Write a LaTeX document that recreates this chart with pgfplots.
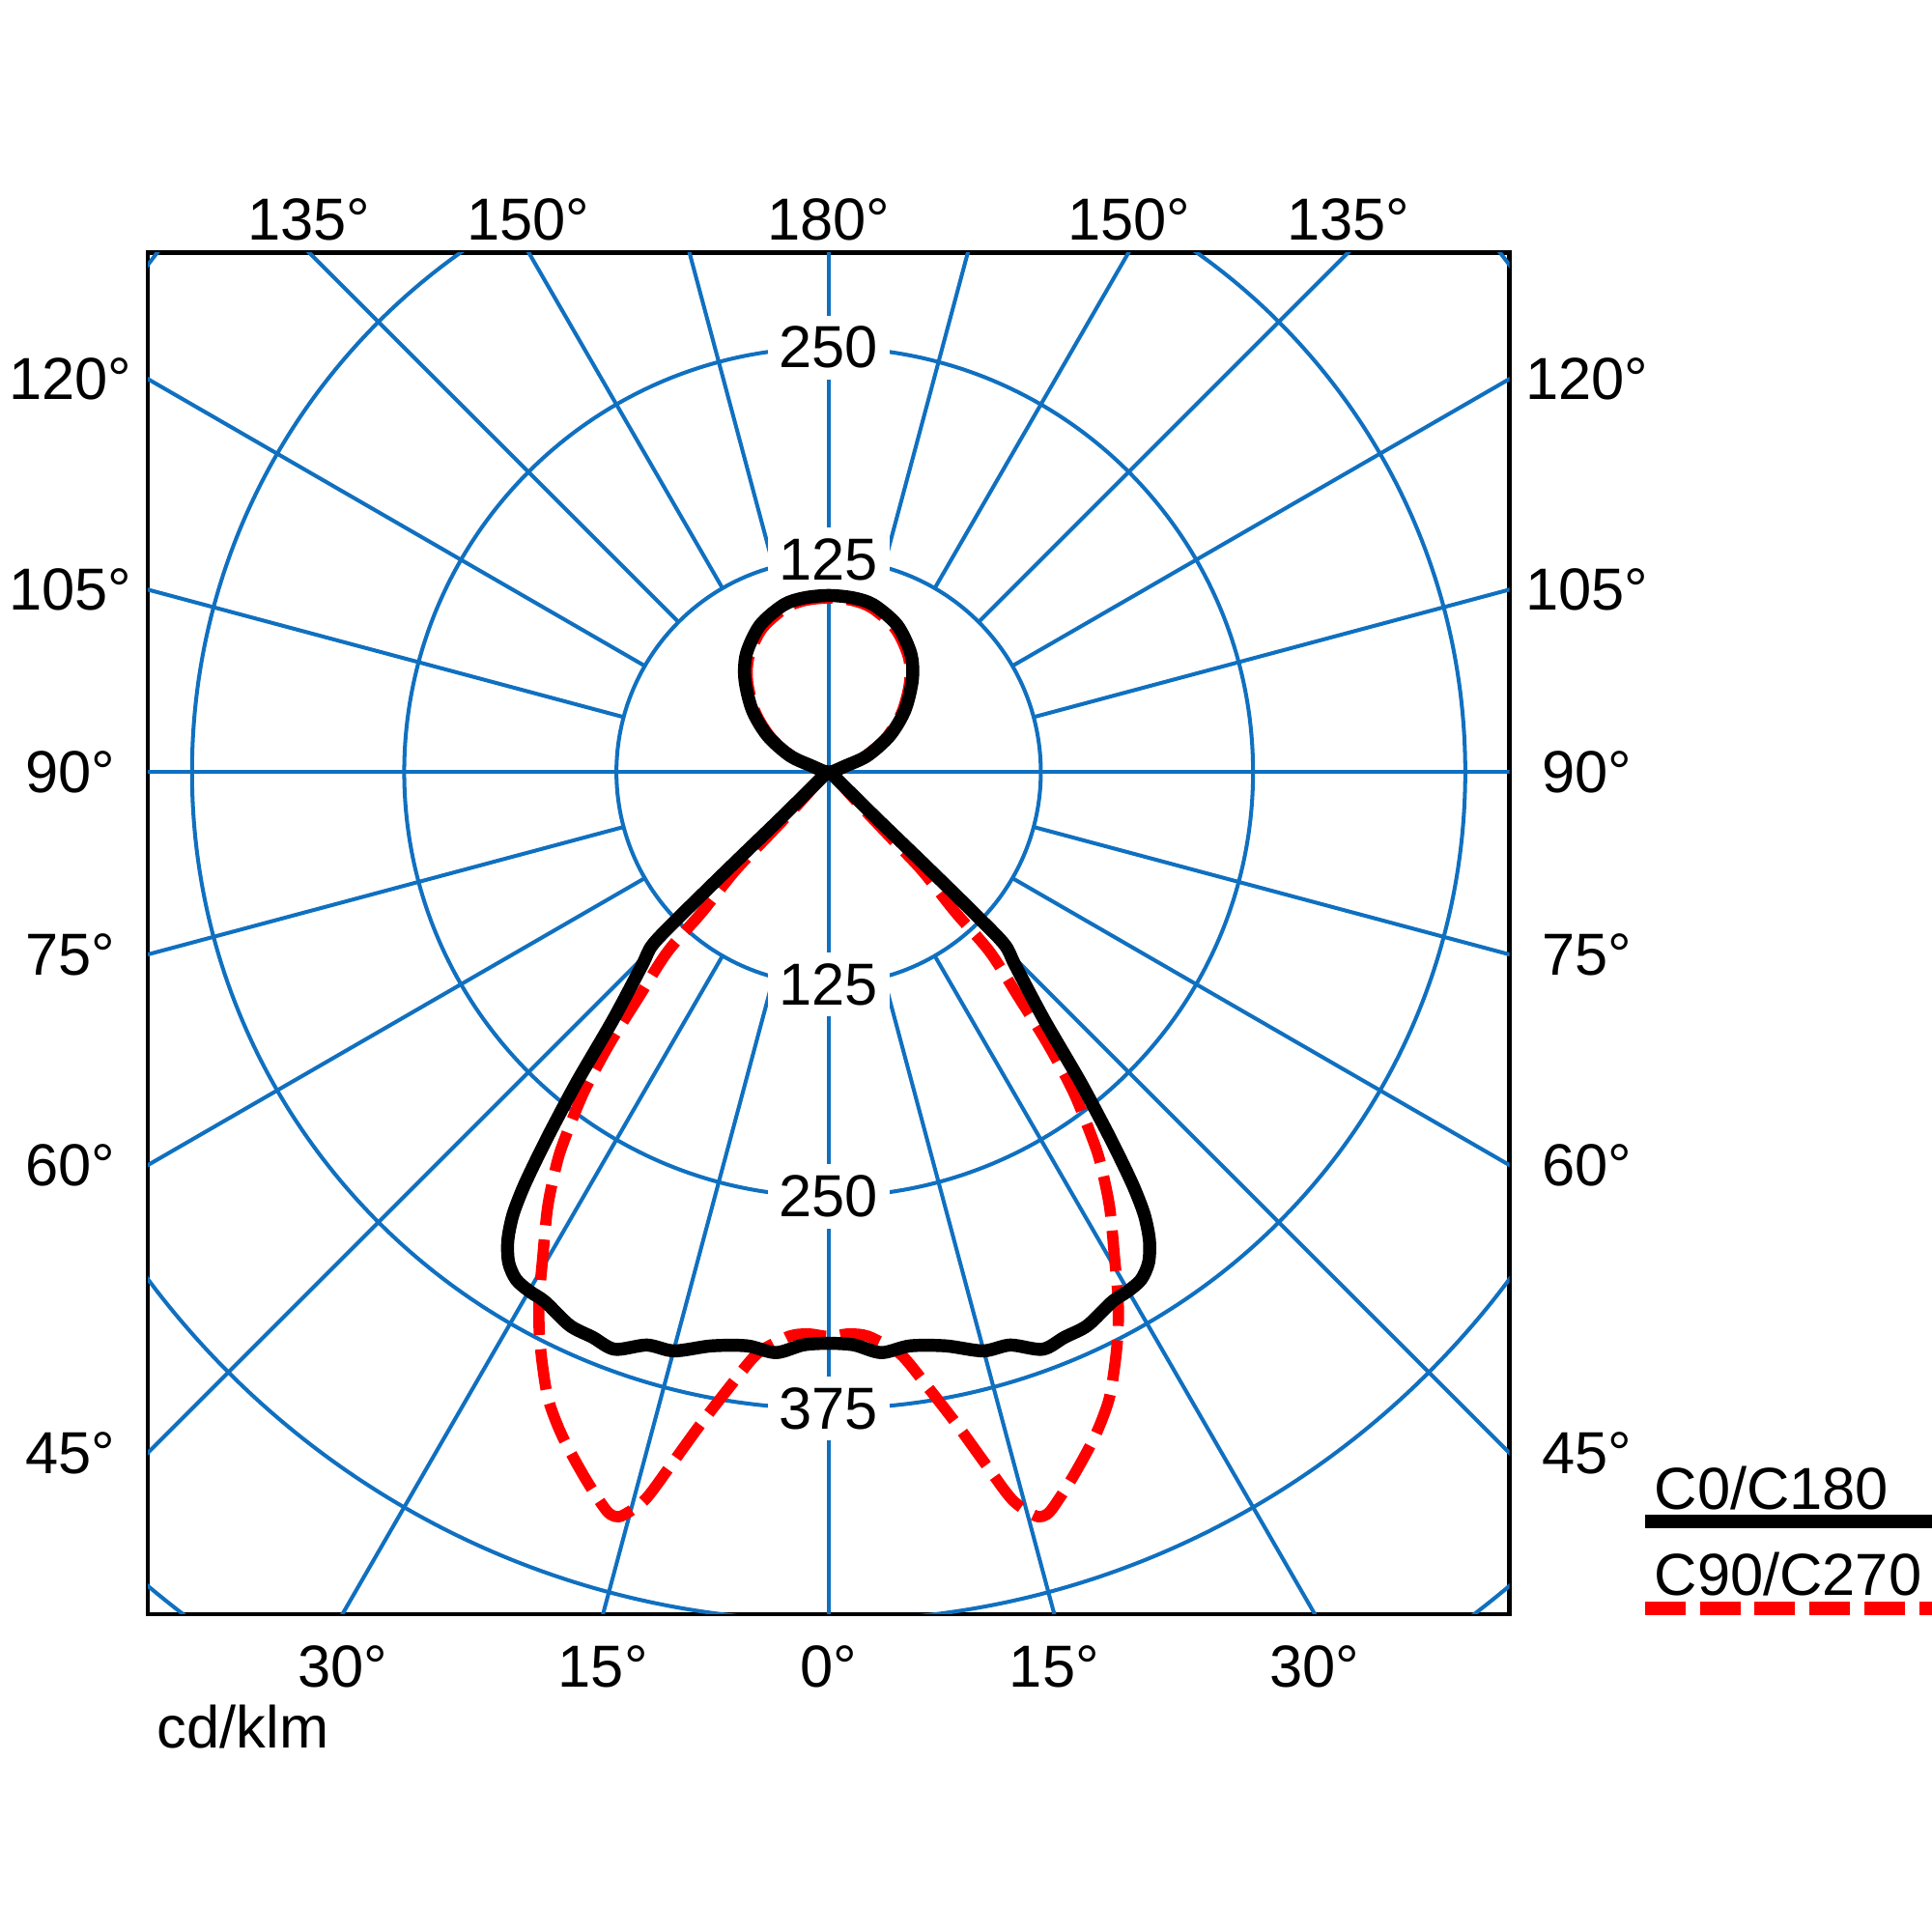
\documentclass[border=0pt]{standalone}
\usepackage{fontspec}
\setmainfont{Liberation Sans}
\usepackage{pgfplots}
\pgfplotsset{compat=1.18}
\usepackage{pgfplotstable}
\definecolor{gridblue}{RGB}{16,112,192}
\tikzset{gridl/.style={gridblue, line width=0.9pt}}

% C0/C180 : angle from nadir (deg, negative = left half), intensity cd/klm
\pgfplotstableread{
t I
90 0
60 2
50 6
46.04 38.9
46.02 79.2
45.88 119.8
45.56 145.0
43.98 158.4
41.02 193.5
39.11 234.6
37.81 265.8
37.03 285.6
36.30 304.0
35.48 320.5
34.40 334.5
33.11 345.0
31.61 351.1
29.91 353.0
28.16 353.9
25.07 359.9
22.66 360.8
20.33 362.6
17.59 354.1
14.94 352.9
11.54 345.0
8.08 341.4
5.18 343.4
2.54 337.8
0 336.5
-2.54 337.8
-5.18 343.4
-8.08 341.4
-11.54 345.0
-14.94 352.9
-17.59 354.1
-20.33 362.6
-22.66 360.8
-25.07 359.9
-28.16 353.9
-29.91 353.0
-31.61 351.1
-33.11 345.0
-34.40 334.5
-35.48 320.5
-36.30 304.0
-37.03 285.6
-37.81 265.8
-39.11 234.6
-41.02 193.5
-43.98 158.4
-45.56 145.0
-45.88 119.8
-46.02 79.2
-46.04 38.9
-50 6
-60 2
-90 0
-100 3
-109.7 10.1
-112.8 24.7
-120.8 42.0
-129.1 58.0
-137.9 73.6
-145.3 85.0
-155 95.5
-165 102.0
-172 103.6
-180 104
-188 103.6
-195 102.0
-205 95.5
-214.7 85.0
-222.1 73.6
-230.9 58.0
-239.2 42.0
-247.2 24.7
-250.3 10.1
-260 3
-270 0
}\blacktab

% C90/C270
\pgfplotstableread{
t I
90 0
60 1
46 10
43.45 26.2
43.45 52.3
43.48 79.9
42.11 111.9
41.87 142.3
40.16 173.6
38.88 205.5
37.45 236.8
35.79 265.1
34.82 280.2
32.88 304.8
30.42 332.8
28.81 353.8
27.32 371.4
25.71 388.4
24.04 405.1
21.88 421.3
19.13 439.3
16.85 453.7
16.03 456.2
15.40 453.8
14.15 441.9
12.83 418.9
11.17 392.4
9.23 367.8
7.06 345.6
4.62 335.1
3.45 332.1
1.90 331.2
0 332.5
-1.90 331.2
-3.45 332.1
-4.62 335.1
-7.06 345.6
-9.23 367.8
-11.17 392.4
-12.83 418.9
-14.15 441.9
-15.40 453.8
-16.03 456.2
-16.85 453.7
-19.13 439.3
-21.88 421.3
-24.04 405.1
-25.71 388.4
-27.32 371.4
-28.81 353.8
-30.42 332.8
-32.88 304.8
-34.82 280.2
-35.79 265.1
-37.45 236.8
-38.88 205.5
-40.16 173.6
-41.87 142.3
-42.11 111.9
-43.48 79.9
-43.45 52.3
-43.45 26.2
-46 10
-60 1
-90 0
-100 2
-109.7 8.5
-112.8 22.2
-120.8 39.5
-129.1 55.5
-137.9 71.1
-145.3 82.5
-155 93.0
-165 99.8
-172 102.0
-180 102.5
-188 102.0
-195 99.8
-205 93.0
-214.7 82.5
-222.1 71.1
-230.9 55.5
-239.2 39.5
-247.2 22.2
-250.3 8.5
-260 2
-270 0
}\redtab

\begin{document}
\fontsize{13.7pt}{16pt}\selectfont
\begin{tikzpicture}
\path[use as bounding box] (0,0) rectangle (15.68,15.68);
\begin{axis}[
  at={(1.20cm,2.58cm)}, anchor=south west,
  scale only axis, width=11.05cm, height=11.05cm,
  xmin=-401, xmax=401, ymin=-496, ymax=306,
  axis line style={line width=1pt, black},
  xtick=\empty, ytick=\empty,
  clip=true,
]
% radial grid lines
\pgfplotsinvokeforeach{15,30,45,60,75,105,120,135,150,165}{
  \draw[gridl] (axis cs:{125*sin(#1)},{-125*cos(#1)}) -- (axis cs:{1000*sin(#1)},{-1000*cos(#1)});
  \draw[gridl] (axis cs:{-125*sin(#1)},{-125*cos(#1)}) -- (axis cs:{-1000*sin(#1)},{-1000*cos(#1)});
}
\draw[gridl] (axis cs:0,-1000) -- (axis cs:0,1000);
\draw[gridl] (axis cs:-1000,0) -- (axis cs:1000,0);
% circles 125, 250, 375, 500, 625 cd/klm
\draw[gridl] (axis cs:0,0) circle[radius=1.7222cm];
\draw[gridl] (axis cs:0,0) circle[radius=3.4445cm];
\draw[gridl] (axis cs:0,0) circle[radius=5.1667cm];
\draw[gridl] (axis cs:0,0) circle[radius=6.8890cm];
\draw[gridl] (axis cs:0,0) circle[radius=8.6112cm];
% circle labels
\node[fill=white, inner sep=0.09cm] at (axis cs:0,250) {250};
\node[fill=white, inner sep=0.09cm] at (axis cs:0,125) {125};
\node[fill=white, inner sep=0.09cm] at (axis cs:0,-125) {125};
\node[fill=white, inner sep=0.09cm] at (axis cs:0,-250) {250};
\node[fill=white, inner sep=0.09cm] at (axis cs:0,-375) {375};
% curves
\addplot[red, line width=2.6pt, dash pattern=on 9.4pt off 3.3pt, smooth, tension=0.5, line join=round]
  table[x expr={\thisrow{I}*sin(\thisrow{t})}, y expr={-\thisrow{I}*cos(\thisrow{t})}] {\redtab};
\addplot[black, line width=3pt, smooth, tension=0.5, line join=round]
  table[x expr={\thisrow{I}*sin(\thisrow{t})}, y expr={-\thisrow{I}*cos(\thisrow{t})}] {\blacktab};
\end{axis}
% angle labels
\foreach \x/\l in {2.505/135,4.288/150,6.725/180,9.162/150,10.945/135}
  \node at (\x,13.90) {\l°};
\foreach \y/\l in {12.604/120,10.894/105,9.414/90,7.934/75,6.224/60,3.889/45}{
  \node at (0.57,\y) {\l°};
  \node at (12.88,\y) {\l°};
}
\foreach \x/\l in {2.779/30,4.894/15,6.725/0,8.556/15,10.671/30}
  \node at (\x,2.155) {\l°};
\node[anchor=base west, inner sep=0] at (1.27,1.49) {cd/klm};
% legend
\node[anchor=base west, inner sep=0] at (13.42,3.43) {C0/C180};
\draw[black, line width=3.1pt] (13.35,3.33) -- (15.9,3.33);
\node[anchor=base west, inner sep=0] at (13.42,2.73) {C90/C270};
\draw[red, line width=3pt, dash pattern=on 0.33cm off 0.115cm] (13.35,2.625) -- (15.9,2.625);
\end{tikzpicture}
\end{document}
